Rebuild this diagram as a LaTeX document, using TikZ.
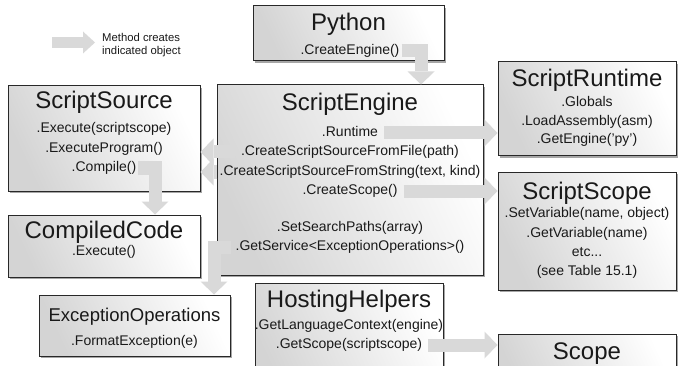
\documentclass[tikz,border=0pt]{standalone}
\usepackage{fontspec}
\setmainfont{Liberation Sans}
\usetikzlibrary{arrows.meta,shadows,calc}
\definecolor{arrowgray}{RGB}{217,217,217}
\definecolor{boxline}{RGB}{40,40,40}
\definecolor{txt}{RGB}{25,25,25}
\begin{document}
\begin{tikzpicture}[x=1pt,y=-1pt,
  box/.style={draw=boxline, line width=1pt, left color=black!17, right color=white, shading angle=115,
    drop shadow={shadow xshift=2pt, shadow yshift=-2pt, fill=black, opacity=0.35}, inner sep=0pt},
  title/.style={font=\fontsize{24}{28}\selectfont, text=txt, inner sep=0pt, text height=17pt, text depth=5pt},
  subtitle/.style={font=\fontsize{18.5}{22}\selectfont, text=txt, inner sep=0pt, text height=13pt, text depth=4pt},
  body/.style={font=\fontsize{14}{16}\selectfont, text=txt, inner sep=0pt, text height=10pt, text depth=3pt},
  legendtext/.style={font=\fontsize{11.3}{13}\selectfont, text=txt, inner sep=0pt, align=left, anchor=west},
  garrow/.style={draw=arrowgray, line width=13pt, line join=miter,
    -{Triangle[length=13pt,width=27pt,line width=0pt]}},
  larrow/.style={draw=arrowgray, line width=11pt,
    -{Triangle[length=12pt,width=22pt,line width=0pt]}}]
\useasboundingbox (0,0) rectangle (679,366);
\clip (0,0) rectangle (679,366);
\fill[white] (0,0) rectangle (679,366);

% legend
\coordinate (l1) at (52,42.5);
\coordinate (l2) at (95,42.5);
\node[legendtext] (legend) at (102,45) {Method creates\\indicated object};

% boxes
\node[box, minimum width=191pt, minimum height=55pt] (python) at (348.5,33.5) {};
\node[box, minimum width=266pt, minimum height=190pt] (engine) at (350,180) {};
\node[box, minimum width=192pt, minimum height=105pt] (source) at (104,138.5) {};
\node[box, minimum width=192pt, minimum height=62pt] (compiled) at (104,246) {};
\node[box, minimum width=191pt, minimum height=61pt] (excops) at (134.5,325.5) {};
\node[box, minimum width=178pt, minimum height=94pt] (runtime) at (587,109) {};
\node[box, minimum width=178pt, minimum height=118pt] (sscope) at (587,231) {};
\node[box, minimum width=188pt, minimum height=117pt] (hosting) at (349,341.5) {};
\node[box, minimum width=178pt, minimum height=66pt] (scope) at (587,367) {};

% Python
\node[title] (pyt) at (348.5,25) {Python};
\node[body] (pyce) at (350,51) {.CreateEngine()};
% ScriptEngine
\node[title] (set) at (350,105) {ScriptEngine};
\node[body] (ser) at (350,133) {.Runtime};
\node[body] (sef) at (350,152) {.CreateScriptSourceFromFile(path)};
\node[body] (ses) at (350,172) {.CreateScriptSourceFromString(text, kind)};
\node[body] (sec) at (350,191) {.CreateScope()};
\node[body] (sep) at (350,228) {.SetSearchPaths(array)};
\node[body] (seg) at (350,247) {.GetService<ExceptionOperations>()};
% ScriptSource
\node[title] (sst) at (104,103) {ScriptSource};
\node[body] (sse) at (104,129) {.Execute(scriptscope)};
\node[body] (ssp) at (104,149) {.ExecuteProgram()};
\node[body] (ssc) at (104,168) {.Compile()};
% CompiledCode
\node[title] (cct) at (104,232) {CompiledCode};
\node[body] (cce) at (104,252) {.Execute()};
% ExceptionOperations
\node[subtitle] (eot) at (134.5,317) {ExceptionOperations};
\node[body] (eof) at (134.5,342) {.FormatException(e)};
% ScriptRuntime
\node[title] (srt) at (587,81) {ScriptRuntime};
\node[body] (srg) at (587,103) {.Globals};
\node[body] (srl) at (587,122) {.LoadAssembly(asm)};
\node[body] (sre) at (587,140) {.GetEngine('py')};
% ScriptScope
\node[title] (sct) at (587,193) {ScriptScope};
\node[body] (scs) at (587,214) {.SetVariable(name, object)};
\node[body] (scg) at (587,234) {.GetVariable(name)};
\node[body] (sce) at (587,253) {etc...};
\node[body] (scb) at (587,272) {(see Table 15.1)};
% HostingHelpers
\node[title] (hht) at (349,301) {HostingHelpers};
\node[body] (hhl) at (349,326) {.GetLanguageContext(engine)};
\node[body] (hhs) at (349,345) {.GetScope(scriptscope)};
% Scope
\node[title] (sgt) at (587,353) {Scope};

% turning points
\coordinate (pyturn) at (421,0);
\coordinate (ccturn) at (155,0);
\coordinate (gsturn) at (214,0);

% arrows
\draw[larrow] (l1) -- (l2);
\draw[garrow] ([xshift=2pt]pyce.east) -| (engine.north -| pyturn);
\draw[garrow] ([xshift=6pt]ser.east) -- (runtime.west |- ser);
\draw[garrow] ([xshift=6pt]sec.east) -- (sscope.west |- sec);
\draw[garrow] ([xshift=-6pt]sef.west) -- (source.east |- sef);
\draw[garrow] ([xshift=-2pt]ses.west) -- (source.east |- ses);
\draw[garrow] ([xshift=2pt]ssc.east) -| (compiled.north -| ccturn);
\draw[garrow] ([xshift=-4pt]seg.west) -| (excops.north -| gsturn);
\draw[garrow] ([xshift=6pt]hhs.east) -- (scope.west |- hhs);
\end{tikzpicture}
\end{document}
